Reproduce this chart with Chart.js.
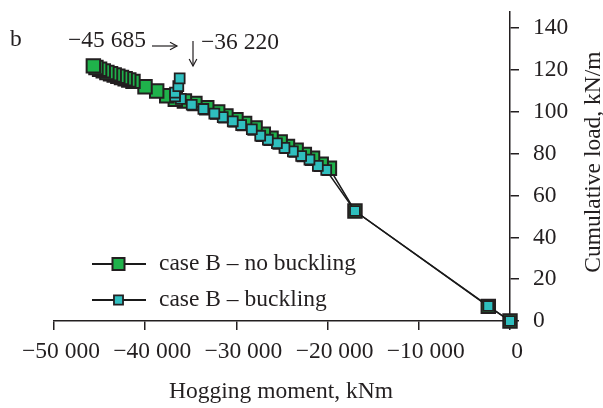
<!DOCTYPE html>
<html>
<head>
<meta charset="utf-8">
<script src="https://cdn.jsdelivr.net/npm/chart.js@4.4.1/dist/chart.umd.min.js"></script>
<style>
  html, body { margin: 0; padding: 0; background: #fff; }
</style>
</head>
<body>
<canvas id="myChart" width="603" height="408"></canvas>
<script>
// case B - no buckling (green)
const noBucklingX = [0, -2380, -17000, -19800, -20700, -21650, -22550, -23450, -24400, -25200,
  -26200, -27050, -27950, -29100, -30050, -31150, -32050, -33250, -34550, -35700, -36700,
  -37640, -38740, -40020, -41340, -41800, -42200, -42600, -43000, -43400, -43800, -44200,
  -44600, -45000, -45400, -45685];
const noBucklingY = [0, 7.0, 52.6, 73.0, 75.0, 77.8, 79.6, 81.7, 83.5, 85.6,
  87.4, 89.3, 92.3, 94.4, 96.2, 98.1, 99.9, 102.0, 104.0, 105.2, 106.0,
  107.7, 110.0, 112.0, 114.6, 115.2, 115.8, 116.4, 117.0, 117.6, 118.2, 118.8,
  119.6, 120.4, 121.2, 122.0];

// case B - buckling (cyan)
const bucklingX = [0, -2380, -17000, -20150, -21070, -21990, -22900, -23810, -24730, -25560,
  -26550, -27390, -28310, -29480, -30400, -31500, -32420, -33620, -34900, -36100, -36730,
  -36730, -36370, -36220];
const bucklingY = [0, 7.2, 52.6, 72.2, 74.2, 77.2, 78.9, 81.1, 82.8, 85.0,
  86.7, 88.6, 91.7, 93.7, 95.5, 97.5, 99.2, 101.4, 103.4, 106.2, 107.4,
  109.2, 112.3, 116.0];

const xTicks = [-50000, -40000, -30000, -20000, -10000, 0];
const yTicks = [0, 20, 40, 60, 80, 100, 120, 140];

const legendLabels = ['case B \u2013 no buckling', 'case B \u2013 buckling'];
const xTitle = 'Hogging moment, kNm';
const yTitle = 'Cumulative load, kN/m';

const INK = '#231f20';
const FONT = '"Liberation Serif", "Times New Roman", serif';

function toPoints(xs, ys) {
  return xs.map((x, i) => ({ x: x, y: ys[i] }));
}

function fmt(v) {
  if (v === 0) return '0';
  const s = Math.abs(v).toString().replace(/\B(?=(\d{3})+(?!\d))/g, ' ');
  return (v < 0 ? '\u2212' : '') + s;
}

function arrow(ctx, x1, y1, x2, y2) {
  const a = Math.atan2(y2 - y1, x2 - x1);
  ctx.beginPath();
  ctx.moveTo(x1, y1);
  ctx.lineTo(x2, y2);
  ctx.stroke();
  ctx.beginPath();
  ctx.moveTo(x2 - 8 * Math.cos(a - 0.5), y2 - 8 * Math.sin(a - 0.5));
  ctx.lineTo(x2, y2);
  ctx.lineTo(x2 - 8 * Math.cos(a + 0.5), y2 - 8 * Math.sin(a + 0.5));
  ctx.stroke();
}

// texts, arrows and the legend
const textPlugin = {
  id: 'texts',
  afterDraw(chart) {
    const ctx = chart.ctx;
    ctx.save();
    ctx.fillStyle = INK;
    ctx.strokeStyle = INK;
    ctx.lineWidth = 1.2;
    ctx.font = '23.5px ' + FONT;
    ctx.textBaseline = 'alphabetic';

    ctx.textAlign = 'left';
    ctx.fillText('b', 10, 46);

    ctx.textAlign = 'center';
    ctx.fillText(fmt(-45685), 107, 47);
    arrow(ctx, 152, 46, 177, 46);
    arrow(ctx, 193, 41, 193, 66);
    ctx.textAlign = 'left';
    ctx.fillText(fmt(-36220), 201, 49);

    // axis titles
    ctx.textAlign = 'center';
    ctx.fillText(xTitle, 281, 398);
    ctx.save();
    ctx.translate(600, 162);
    ctx.rotate(-Math.PI / 2);
    ctx.fillText(yTitle, 0, 0);
    ctx.restore();

    // legend
    const rows = [264, 300];
    const sets = [chart.data.datasets[0], chart.data.datasets[1]];
    const legendRadius = [8.5, 6.4];
    sets.forEach((ds, i) => {
      const y = rows[i];
      ctx.strokeStyle = ds.borderColor;
      ctx.lineWidth = 1.8;
      ctx.beginPath();
      ctx.moveTo(92, y);
      ctx.lineTo(146, y);
      ctx.stroke();
      ctx.fillStyle = ds.pointBackgroundColor;
      ctx.strokeStyle = ds.pointBorderColor;
      ctx.lineWidth = ds.pointBorderWidth;
      Chart.helpers.drawPoint(ctx, { pointStyle: 'rect', radius: legendRadius[i], borderWidth: ds.pointBorderWidth }, 118.5, y);
      ctx.fillStyle = INK;
      ctx.textAlign = 'left';
      ctx.textBaseline = 'middle';
      ctx.fillText(legendLabels[i], 159, y);
    });
    ctx.restore();
  }
};

const config = {
  type: 'scatter',
  data: {
    datasets: [
      {
        label: legendLabels[0],
        data: toPoints(noBucklingX, noBucklingY),
        showLine: true,
        clip: false,
        borderColor: '#1a1a1a',
        borderWidth: 1.5,
        pointStyle: 'rect',
        pointRadius: 9.5,
        pointBackgroundColor: '#1fb24b',
        pointBorderColor: INK,
        pointBorderWidth: 2,
        order: 2
      },
      {
        label: legendLabels[1],
        data: toPoints(bucklingX, bucklingY),
        showLine: true,
        clip: false,
        borderColor: '#1a1a1a',
        borderWidth: 1.5,
        pointStyle: 'rect',
        pointRadius: 7,
        pointBackgroundColor: '#2fbfbf',
        pointBorderColor: INK,
        pointBorderWidth: 1.8,
        order: 1
      }
    ]
  },
  options: {
    responsive: false,
    animation: false,
    layout: { padding: { left: 54, top: 8, right: 0, bottom: 0 } },
    plugins: {
      legend: { display: false },
      tooltip: { enabled: false }
    },
    scales: {
      x: {
        type: 'linear',
        position: 'bottom',
        min: xTicks[0],
        max: xTicks[xTicks.length - 1],
        afterBuildTicks: scale => { scale.ticks = xTicks.map(v => ({ value: v })); },
        afterFit: scale => {
          scale.height = 87;
          scale.paddingLeft = 0;
          scale.paddingRight = 0;
        },
        ticks: {
          color: INK,
          font: { family: FONT, size: 23.5 },
          padding: 8,
          labelOffset: 7,
          maxRotation: 0,
          callback: v => fmt(v)
        },
        grid: { drawOnChartArea: false, drawTicks: true, tickLength: 9, color: INK, lineWidth: 1.5 },
        border: { display: true, color: INK, width: 1.5 }
      },
      y: {
        type: 'linear',
        position: 'right',
        min: 0,
        max: 148,
        afterBuildTicks: scale => { scale.ticks = yTicks.map(v => ({ value: v })); },
        afterFit: scale => {
          scale.width = 93;
          scale.paddingTop = 0;
          scale.paddingBottom = 0;
        },
        ticks: {
          color: INK,
          font: { family: FONT, size: 23.5 },
          padding: 14,
          callback: v => fmt(v)
        },
        grid: { drawOnChartArea: false, drawTicks: true, tickLength: 9, color: INK, lineWidth: 1.5 },
        border: { display: true, color: INK, width: 1.5 }
      }
    }
  },
  plugins: [textPlugin]
};

const myChart = new Chart(document.getElementById('myChart'), config);
</script>
</body>
</html>
